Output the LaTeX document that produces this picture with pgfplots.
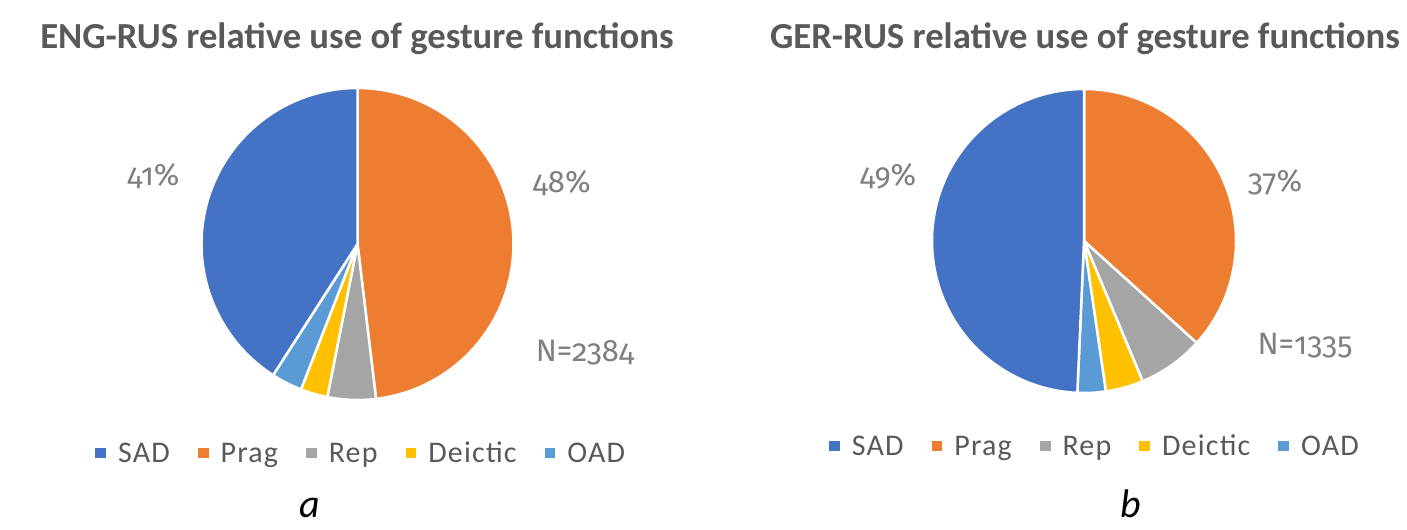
\documentclass[border=0pt]{standalone}
\usepackage{pgfplots}
\pgfplotsset{compat=1.18}
\usepackage{fontspec}
\setmainfont{Carlito}
\newfontfamily\labelfont[Numbers=OldStyle]{Fira Sans}
\newfontfamily\legfont[LetterSpace=4]{Carlito}

\definecolor{sad}{HTML}{4472C4}
\definecolor{prag}{HTML}{ED7D31}
\definecolor{rep}{HTML}{A5A5A5}
\definecolor{deic}{HTML}{FFC000}
\definecolor{oad}{HTML}{5B9BD5}
\definecolor{titlegray}{HTML}{595959}
\definecolor{labgray}{HTML}{7F7F7F}

% ENG-RUS shares (%), GER-RUS shares (%)
\pgfplotstableread{
name    eng   ger
SAD     40.9  49.3
Prag    48.1  36.7
Rep     5.0   7.0
Deictic 2.8   4.0
OAD     3.2   3.0
}\shares

\newcommand\cum{0}
\newcommand\slice[2]{%
  \pgfmathsetmacro\sa{90-3.6*\cum}%
  \pgfmathsetmacro\se{90-3.6*(\cum+#1)}%
  \edef\doplot{\noexpand\addplot[forget plot, fill=#2, draw=white, line width=2.5bp, line join=round, domain=\se:\sa, samples=120] ({cos(x)},{sin(x)}) -- (axis cs:0,0) -- cycle;}%
  \doplot
  \pgfmathsetmacro\newcum{\cum+#1}%
  \global\let\cum\newcum
}
% fetch a value from the table: #1 row, #2 column
\newcommand\getval[2]{\pgfplotstablegetelem{#1}{#2}\of\shares\let\v\pgfplotsretval}

\pgfplotsset{pie/.style={
  scale only axis, hide axis, xmin=-1, xmax=1, ymin=-1, ymax=1, clip=false,
  legend columns=5,
  legend image code/.code={\fill[##1,draw=none] (0bp,-5.35bp) rectangle (10.7bp,5.35bp);},
  legend style={draw=none, fill=none, inner sep=0pt, outer sep=0pt, anchor=center,
    font=\fontsize{30bp}{36bp}\selectfont\legfont, text=titlegray,
    /tikz/every odd column/.append style={column sep=12bp},
    /tikz/every even column/.append style={column sep=28bp},
    nodes={inner sep=0pt, text height=19.3bp, text depth=0pt}},
}}

\begin{document}
\begin{tikzpicture}
\path[use as bounding box] (0,0) rectangle (1407bp,530bp);

% ---------- left pie ----------
\begin{axis}[pie, at={(357.5bp,286bp)}, anchor=center, width=312bp, height=312bp,
  legend style={at={(0.509,-0.17)}}]
\gdef\cum{0}
\getval{1}{eng}\slice{\v}{prag}
\getval{2}{eng}\slice{\v}{rep}
\getval{3}{eng}\slice{\v}{deic}
\getval{4}{eng}\slice{\v}{oad}
\getval{0}{eng}\slice{\v}{sad}
\addlegendimage{fill=sad}\addlegendentry{SAD}
\addlegendimage{fill=prag}\addlegendentry{Prag}
\addlegendimage{fill=rep}\addlegendentry{Rep}
\addlegendimage{fill=deic}\addlegendentry{Deictic}
\addlegendimage{fill=oad}\addlegendentry{OAD}
\end{axis}

% ---------- right pie ----------
\begin{axis}[pie, at={(1084bp,289bp)}, anchor=center, width=304bp, height=304bp,
  legend style={at={(0.533,-0.174)}}]
\gdef\cum{0}
\getval{1}{ger}\slice{\v}{prag}
\getval{2}{ger}\slice{\v}{rep}
\getval{3}{ger}\slice{\v}{deic}
\getval{4}{ger}\slice{\v}{oad}
\getval{0}{ger}\slice{\v}{sad}
\addlegendimage{fill=sad}\addlegendentry{SAD}
\addlegendimage{fill=prag}\addlegendentry{Prag}
\addlegendimage{fill=rep}\addlegendentry{Rep}
\addlegendimage{fill=deic}\addlegendentry{Deictic}
\addlegendimage{fill=oad}\addlegendentry{OAD}
\end{axis}

% ---------- titles ----------
\node[anchor=base, text=titlegray, font=\fontsize{36.7bp}{44bp}\selectfont\bfseries, inner sep=0pt]
  at (357bp,481bp) {ENG-RUS relative use of gesture functions};
\node[anchor=base, text=titlegray, font=\fontsize{36.7bp}{44bp}\selectfont\bfseries, inner sep=0pt]
  at (1085bp,481bp) {GER-RUS relative use of gesture functions};

% ---------- data labels ----------
\tikzset{lab/.style={anchor=base, text=labgray, inner sep=0pt, font=\fontsize{31bp}{37bp}\selectfont\labelfont}}
\node[lab] at (153.3bp,344bp) {41\%};
\node[lab] at (561.7bp,337.3bp) {48\%};
\node[lab] at (585bp,168.3bp) {N=2384};
\node[lab] at (888bp,344bp) {49\%};
\node[lab] at (1275bp,338bp) {37\%};
\node[lab] at (1305bp,175bp) {N=1335};

% ---------- panel letters ----------
\node[anchor=base, inner sep=0pt, font=\fontsize{40bp}{48bp}\selectfont\itshape] at (310bp,13bp) {a};
\node[anchor=base, inner sep=0pt, font=\fontsize{40bp}{48bp}\selectfont\itshape] at (1131bp,13bp) {b};
\end{tikzpicture}
\end{document}
